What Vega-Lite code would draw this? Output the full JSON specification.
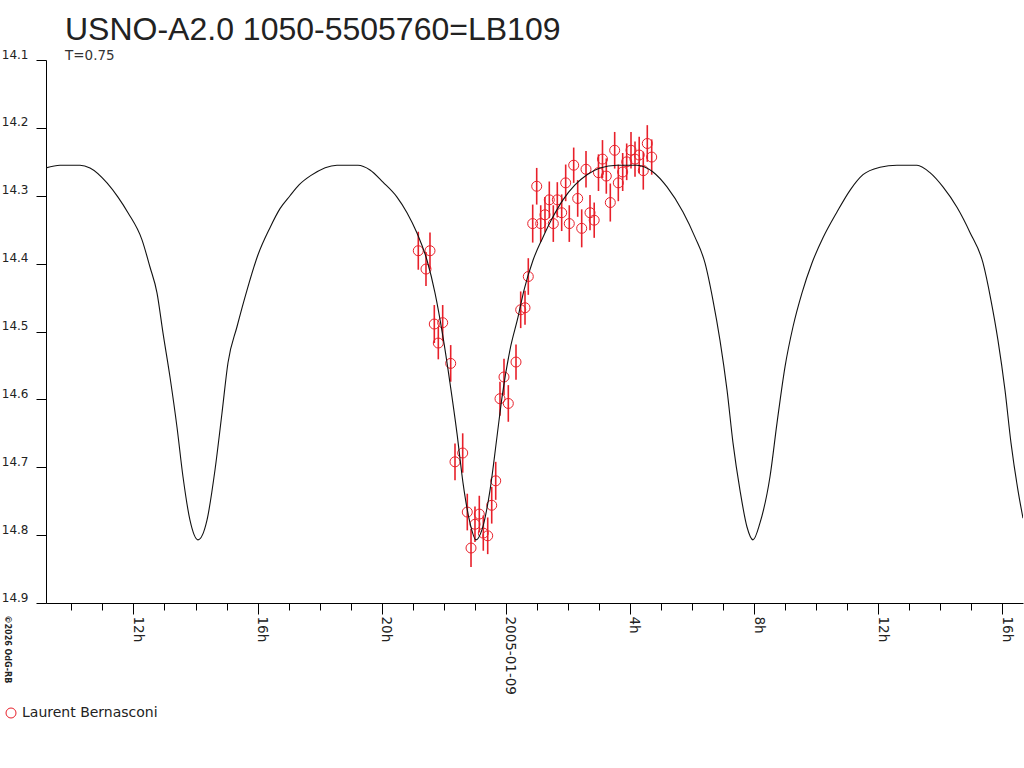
{
  "$schema": "https://vega.github.io/schema/vega-lite/v6.json",
  "width": 977,
  "height": 543,
  "autosize": {"type": "none"},
  "padding": {"left": 46, "top": 60, "right": 1, "bottom": 165},
  "background": "white",
  "config": {"view": {"stroke": null}, "font": "DejaVu Sans"},
  "title": {
    "text": "USNO-A2.0 1050-5505760=LB109",
    "subtitle": "T=0.75",
    "anchor": "start",
    "frame": "group",
    "dx": 19,
    "offset": -15,
    "font": "Liberation Sans",
    "fontSize": 32,
    "fontWeight": "normal",
    "color": "#222222",
    "subtitleFont": "DejaVu Sans",
    "subtitleFontSize": 13.5,
    "subtitleColor": "#333333",
    "subtitlePadding": 2
  },
  "datasets": {
    "curve": [
      {"h": -14.818, "mag": 14.259}, {"h": -14.367, "mag": 14.255}, {"h": -13.722, "mag": 14.255},
      {"h": -13.400, "mag": 14.259}, {"h": -12.852, "mag": 14.281}, {"h": -12.498, "mag": 14.302},
      {"h": -12.176, "mag": 14.325}, {"h": -11.724, "mag": 14.365}, {"h": -11.467, "mag": 14.405},
      {"h": -11.241, "mag": 14.443}, {"h": -11.048, "mag": 14.502}, {"h": -10.822, "mag": 14.567},
      {"h": -10.596, "mag": 14.641}, {"h": -10.403, "mag": 14.714}, {"h": -10.178, "mag": 14.778},
      {"h": -9.920, "mag": 14.807}, {"h": -9.630, "mag": 14.778}, {"h": -9.372, "mag": 14.704},
      {"h": -9.146, "mag": 14.620}, {"h": -8.953, "mag": 14.546}, {"h": -8.663, "mag": 14.493},
      {"h": -8.340, "mag": 14.439}, {"h": -7.986, "mag": 14.387}, {"h": -7.599, "mag": 14.347},
      {"h": -7.277, "mag": 14.319}, {"h": -6.955, "mag": 14.300}, {"h": -6.664, "mag": 14.284},
      {"h": -6.277, "mag": 14.270}, {"h": -5.440, "mag": 14.255}, {"h": -4.763, "mag": 14.255},
      {"h": -4.376, "mag": 14.262}, {"h": -3.958, "mag": 14.280}, {"h": -3.506, "mag": 14.302},
      {"h": -3.184, "mag": 14.325}, {"h": -2.862, "mag": 14.355}, {"h": -2.539, "mag": 14.395},
      {"h": -2.282, "mag": 14.443}, {"h": -2.024, "mag": 14.508}, {"h": -1.798, "mag": 14.576},
      {"h": -1.573, "mag": 14.650}, {"h": -1.379, "mag": 14.723}, {"h": -1.154, "mag": 14.782},
      {"h": -0.960, "mag": 14.807}, {"h": -0.767, "mag": 14.792}, {"h": -0.509, "mag": 14.734},
      {"h": -0.284, "mag": 14.655}, {"h": -0.122, "mag": 14.597}, {"h": 0.135, "mag": 14.527},
      {"h": 0.393, "mag": 14.479}, {"h": 0.587, "mag": 14.439}, {"h": 0.877, "mag": 14.395},
      {"h": 1.199, "mag": 14.361}, {"h": 1.521, "mag": 14.331}, {"h": 1.843, "mag": 14.306},
      {"h": 2.230, "mag": 14.284}, {"h": 2.617, "mag": 14.269}, {"h": 3.036, "mag": 14.259},
      {"h": 3.584, "mag": 14.255}, {"h": 4.228, "mag": 14.255}, {"h": 4.744, "mag": 14.265},
      {"h": 5.195, "mag": 14.287}, {"h": 5.711, "mag": 14.324}, {"h": 6.097, "mag": 14.361},
      {"h": 6.419, "mag": 14.399}, {"h": 6.677, "mag": 14.454}, {"h": 6.903, "mag": 14.513},
      {"h": 7.129, "mag": 14.586}, {"h": 7.322, "mag": 14.664}, {"h": 7.548, "mag": 14.734},
      {"h": 7.773, "mag": 14.788}, {"h": 7.967, "mag": 14.807}, {"h": 8.192, "mag": 14.782},
      {"h": 8.514, "mag": 14.714}, {"h": 8.740, "mag": 14.635}, {"h": 8.998, "mag": 14.552},
      {"h": 9.256, "mag": 14.493}, {"h": 9.546, "mag": 14.443}, {"h": 9.868, "mag": 14.399},
      {"h": 10.222, "mag": 14.362}, {"h": 10.673, "mag": 14.324}, {"h": 11.092, "mag": 14.292},
      {"h": 11.511, "mag": 14.269}, {"h": 12.059, "mag": 14.258}, {"h": 12.607, "mag": 14.255},
      {"h": 13.251, "mag": 14.255}, {"h": 13.670, "mag": 14.266}, {"h": 14.089, "mag": 14.287},
      {"h": 14.540, "mag": 14.317}, {"h": 14.959, "mag": 14.354}, {"h": 15.379, "mag": 14.399},
      {"h": 15.636, "mag": 14.454}, {"h": 15.862, "mag": 14.513}, {"h": 16.087, "mag": 14.586},
      {"h": 16.281, "mag": 14.664}, {"h": 16.506, "mag": 14.734}, {"h": 16.668, "mag": 14.775}
    ],
    "obs": [
      {"h": -2.820, "mag": 14.381, "lo": 14.353, "hi": 14.409, "observer": "Laurent Bernasconi"},
      {"h": -2.572, "mag": 14.408, "lo": 14.383, "hi": 14.433, "observer": "Laurent Bernasconi"},
      {"h": -2.443, "mag": 14.381, "lo": 14.354, "hi": 14.408, "observer": "Laurent Bernasconi"},
      {"h": -2.304, "mag": 14.489, "lo": 14.461, "hi": 14.517, "observer": "Laurent Bernasconi"},
      {"h": -2.175, "mag": 14.517, "lo": 14.493, "hi": 14.541, "observer": "Laurent Bernasconi"},
      {"h": -2.034, "mag": 14.487, "lo": 14.461, "hi": 14.513, "observer": "Laurent Bernasconi"},
      {"h": -1.776, "mag": 14.547, "lo": 14.520, "hi": 14.574, "observer": "Laurent Bernasconi"},
      {"h": -1.637, "mag": 14.692, "lo": 14.665, "hi": 14.719, "observer": "Laurent Bernasconi"},
      {"h": -1.389, "mag": 14.679, "lo": 14.650, "hi": 14.708, "observer": "Laurent Bernasconi"},
      {"h": -1.241, "mag": 14.766, "lo": 14.739, "hi": 14.793, "observer": "Laurent Bernasconi"},
      {"h": -1.121, "mag": 14.819, "lo": 14.791, "hi": 14.847, "observer": "Laurent Bernasconi"},
      {"h": -0.993, "mag": 14.784, "lo": 14.758, "hi": 14.810, "observer": "Laurent Bernasconi"},
      {"h": -0.854, "mag": 14.769, "lo": 14.742, "hi": 14.796, "observer": "Laurent Bernasconi"},
      {"h": -0.725, "mag": 14.797, "lo": 14.771, "hi": 14.823, "observer": "Laurent Bernasconi"},
      {"h": -0.583, "mag": 14.801, "lo": 14.774, "hi": 14.828, "observer": "Laurent Bernasconi"},
      {"h": -0.454, "mag": 14.756, "lo": 14.729, "hi": 14.783, "observer": "Laurent Bernasconi"},
      {"h": -0.325, "mag": 14.720, "lo": 14.692, "hi": 14.748, "observer": "Laurent Bernasconi"},
      {"h": -0.187, "mag": 14.599, "lo": 14.574, "hi": 14.624, "observer": "Laurent Bernasconi"},
      {"h": -0.058, "mag": 14.567, "lo": 14.540, "hi": 14.594, "observer": "Laurent Bernasconi"},
      {"h": 0.081, "mag": 14.606, "lo": 14.579, "hi": 14.633, "observer": "Laurent Bernasconi"},
      {"h": 0.329, "mag": 14.545, "lo": 14.519, "hi": 14.571, "observer": "Laurent Bernasconi"},
      {"h": 0.480, "mag": 14.468, "lo": 14.441, "hi": 14.495, "observer": "Laurent Bernasconi"},
      {"h": 0.619, "mag": 14.465, "lo": 14.440, "hi": 14.490, "observer": "Laurent Bernasconi"},
      {"h": 0.725, "mag": 14.419, "lo": 14.392, "hi": 14.446, "observer": "Laurent Bernasconi"},
      {"h": 0.867, "mag": 14.341, "lo": 14.313, "hi": 14.369, "observer": "Laurent Bernasconi"},
      {"h": 0.996, "mag": 14.286, "lo": 14.259, "hi": 14.313, "observer": "Laurent Bernasconi"},
      {"h": 1.125, "mag": 14.341, "lo": 14.314, "hi": 14.368, "observer": "Laurent Bernasconi"},
      {"h": 1.263, "mag": 14.328, "lo": 14.302, "hi": 14.354, "observer": "Laurent Bernasconi"},
      {"h": 1.402, "mag": 14.306, "lo": 14.279, "hi": 14.333, "observer": "Laurent Bernasconi"},
      {"h": 1.531, "mag": 14.341, "lo": 14.314, "hi": 14.368, "observer": "Laurent Bernasconi"},
      {"h": 1.660, "mag": 14.306, "lo": 14.280, "hi": 14.332, "observer": "Laurent Bernasconi"},
      {"h": 1.801, "mag": 14.325, "lo": 14.298, "hi": 14.352, "observer": "Laurent Bernasconi"},
      {"h": 1.930, "mag": 14.281, "lo": 14.254, "hi": 14.308, "observer": "Laurent Bernasconi"},
      {"h": 2.046, "mag": 14.341, "lo": 14.314, "hi": 14.368, "observer": "Laurent Bernasconi"},
      {"h": 2.188, "mag": 14.255, "lo": 14.229, "hi": 14.281, "observer": "Laurent Bernasconi"},
      {"h": 2.317, "mag": 14.304, "lo": 14.277, "hi": 14.331, "observer": "Laurent Bernasconi"},
      {"h": 2.446, "mag": 14.348, "lo": 14.320, "hi": 14.376, "observer": "Laurent Bernasconi"},
      {"h": 2.585, "mag": 14.261, "lo": 14.234, "hi": 14.288, "observer": "Laurent Bernasconi"},
      {"h": 2.714, "mag": 14.325, "lo": 14.299, "hi": 14.351, "observer": "Laurent Bernasconi"},
      {"h": 2.849, "mag": 14.336, "lo": 14.310, "hi": 14.362, "observer": "Laurent Bernasconi"},
      {"h": 2.987, "mag": 14.266, "lo": 14.239, "hi": 14.293, "observer": "Laurent Bernasconi"},
      {"h": 3.116, "mag": 14.246, "lo": 14.218, "hi": 14.274, "observer": "Laurent Bernasconi"},
      {"h": 3.239, "mag": 14.271, "lo": 14.245, "hi": 14.297, "observer": "Laurent Bernasconi"},
      {"h": 3.368, "mag": 14.310, "lo": 14.282, "hi": 14.338, "observer": "Laurent Bernasconi"},
      {"h": 3.509, "mag": 14.233, "lo": 14.206, "hi": 14.260, "observer": "Laurent Bernasconi"},
      {"h": 3.626, "mag": 14.281, "lo": 14.254, "hi": 14.308, "observer": "Laurent Bernasconi"},
      {"h": 3.767, "mag": 14.265, "lo": 14.237, "hi": 14.293, "observer": "Laurent Bernasconi"},
      {"h": 3.896, "mag": 14.250, "lo": 14.223, "hi": 14.277, "observer": "Laurent Bernasconi"},
      {"h": 4.035, "mag": 14.233, "lo": 14.206, "hi": 14.260, "observer": "Laurent Bernasconi"},
      {"h": 4.164, "mag": 14.246, "lo": 14.220, "hi": 14.272, "observer": "Laurent Bernasconi"},
      {"h": 4.299, "mag": 14.240, "lo": 14.213, "hi": 14.267, "observer": "Laurent Bernasconi"},
      {"h": 4.431, "mag": 14.263, "lo": 14.235, "hi": 14.291, "observer": "Laurent Bernasconi"},
      {"h": 4.560, "mag": 14.223, "lo": 14.196, "hi": 14.250, "observer": "Laurent Bernasconi"},
      {"h": 4.702, "mag": 14.243, "lo": 14.217, "hi": 14.269, "observer": "Laurent Bernasconi"}
    ]
  },
  "layer": [
    {
      "data": {"name": "obs"},
      "mark": {"type": "rule", "color": "#e8202a", "strokeWidth": 1.6},
      "encoding": {
        "x": {
          "field": "h",
          "type": "quantitative",
          "scale": {"domain": [-14.818, 16.668], "zero": false, "nice": false},
          "axis": {
            "title": null,
            "grid": false,
            "tickCount": 60,
            "values": [-14, -13, -12, -11, -10, -9, -8, -7, -6, -5, -4, -3, -2, -1, 0, 1, 2, 3, 4, 5, 6, 7, 8, 9, 10, 11, 12, 13, 14, 15, 16],
            "labelExpr": "datum.value == 0 ? '2005-01-09' : (datum.value % 4 == 0 ? ((datum.value + 24) % 24) + 'h' : '')",
            "labelAngle": 90,
            "labelAlign": "left",
            "labelBaseline": "alphabetic",
            "labelPadding": 2,
            "labelOverlap": false,
            "labelFlush": false,
            "labelFont": "DejaVu Sans",
            "labelFontSize": 13.5,
            "labelColor": "#222222",
            "domainColor": "#000000",
            "tickColor": "#000000",
            "tickSize": {"condition": {"test": "datum.value % 4 == 0", "value": 11}, "value": 7}
          }
        },
        "y": {
          "field": "lo",
          "type": "quantitative",
          "scale": {"domain": [14.1, 14.9], "reverse": true, "zero": false, "nice": false},
          "axis": {
            "values": [14.1, 14.2, 14.3, 14.4, 14.5, 14.6, 14.7, 14.8, 14.9],
            "tickCount": 20,
            "format": ".1f",
            "grid": false,
            "tickSize": 10,
            "labelPadding": 8,
            "labelBaseline": "alphabetic",
            "labelOffset": -2,
            "labelFont": "DejaVu Sans",
            "labelFontSize": 12,
            "labelColor": "#222222",
            "domainColor": "#000000",
            "tickColor": "#000000",
            "title": "©2026 OdG-RB",
            "titleAngle": 90,
            "titleX": -42,
            "titleY": 555,
            "titleAlign": "left",
            "titleBaseline": "alphabetic",
            "titleFont": "DejaVu Sans",
            "titleFontSize": 8,
            "titleFontWeight": "bold",
            "titleColor": "#222222"
          }
        },
        "y2": {"field": "hi"}
      }
    },
    {
      "data": {"name": "obs"},
      "mark": {"type": "point", "shape": "circle", "filled": false, "size": 100, "strokeWidth": 1, "opacity": 1},
      "encoding": {
        "x": {"field": "h", "type": "quantitative"},
        "y": {"field": "mag", "type": "quantitative"},
        "color": {
          "field": "observer",
          "type": "nominal",
          "scale": {"range": ["#e8202a"]},
          "legend": {
            "orient": "none",
            "legendX": -42,
            "legendY": 646,
            "title": null,
            "padding": 0,
            "labelFont": "DejaVu Sans",
            "labelFontSize": 14,
            "labelColor": "#222222",
            "symbolSize": 100,
            "symbolStrokeWidth": 1,
            "labelOffset": 4
          }
        }
      }
    },
    {
      "data": {"name": "curve"},
      "mark": {"type": "line", "color": "#111111", "strokeWidth": 1.1, "interpolate": "monotone", "clip": true},
      "encoding": {
        "x": {"field": "h", "type": "quantitative"},
        "y": {"field": "mag", "type": "quantitative"}
      }
    }
  ]
}
